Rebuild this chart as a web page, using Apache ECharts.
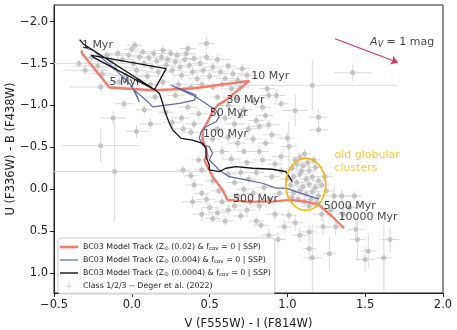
<!DOCTYPE html>
<html>
<head>
<meta charset="utf-8">
<script src="https://cdn.jsdelivr.net/npm/echarts@6/dist/echarts.min.js"></script>
<style>
html,body{margin:0;padding:0;background:#fff;}
#chart{width:457px;height:330px;}
</style>
</head>
<body>
<div id="chart"></div>
<script>
// BC03 model tracks  [V-I, U-B]
var redTrack = [[-0.324,-1.658],[-0.318,-1.619],[-0.143,-1.214],[0.135,-1.182],[0.391,-1.202],[0.755,-1.293],
  [0.605,-1.063],[0.551,-1.004],[0.519,-0.924],[0.487,-0.805],[0.455,-0.706],[0.455,-0.587],[0.477,-0.488],
  [0.487,-0.388],[0.466,-0.349],[0.519,-0.150],[0.583,0.008],[0.615,0.127],[0.733,0.148],[0.904,0.148],
  [1.011,0.127],[1.118,0.148],[1.203,0.187],[1.288,0.326],[1.363,0.464]];
var blueTrack = [[-0.314,-1.698],[-0.250,-1.658],[-0.100,-1.420],[-0.004,-1.242],[0.049,-1.043],[0.017,-1.182],
  [0.092,-1.063],[0.135,-0.983],[0.306,-1.024],[0.402,-1.063],[0.413,-1.123],[0.253,-1.242],[0.413,-1.102],
  [0.541,-0.944],[0.562,-0.864],[0.541,-0.805],[0.477,-0.745],[0.445,-0.686],[0.434,-0.607],[0.455,-0.527],
  [0.498,-0.507],[0.519,-0.429],[0.498,-0.349],[0.562,-0.230],[0.626,-0.150],[0.733,-0.111],[0.840,-0.071],
  [0.926,-0.012],[0.990,-0.012],[1.054,0.029],[1.118,0.068],[1.203,0.119]];
var blackTrack = [[-0.335,-1.786],[-0.314,-1.738],[0.146,-1.190],[0.221,-1.440],[-0.260,-1.599],[-0.246,-1.575],
  [0.146,-1.190],[0.178,-1.143],[0.199,-1.024],[0.210,-0.944],[0.242,-0.786],[0.263,-0.706],[0.317,-0.607],
  [0.391,-0.587],[0.455,-0.548],[0.477,-0.488],[0.477,-0.388],[0.498,-0.289],[0.498,-0.230],[0.562,-0.210],
  [0.605,-0.250],[0.669,-0.269],[0.776,-0.250],[0.904,-0.238],[0.990,-0.210],[1.011,-0.150],[1.032,-0.090]];

// age labels along the tracks
var ageLabels = [[-0.324,-1.718,'1 Myr'],[-0.147,-1.274,'5 Myr'],[0.765,-1.352,'10 Myr'],[0.605,-1.063,'30 Myr'],
  [0.498,-0.905,'50 Myr'],[0.455,-0.655,'100 Myr'],[0.647,0.115,'500 Myr'],[1.231,0.207,'5000 Myr'],
  [1.325,0.338,'10000 Myr']];

// clusters: [V-I, U-B, err(V-I), err(U-B)]
var clusters = [
  [-0.34,-1.50,0.18,0.05],[-0.30,-1.42,0.14,0.06],[-0.26,-1.58,0.06,0.05],[-0.22,-1.47,0.16,0.07],
  [-0.19,-1.38,0.07,0.06],[-0.16,-1.60,0.10,0.05],[-0.13,-1.52,0.08,0.06],[-0.11,-1.45,0.12,0.05],
  [-0.09,-1.62,0.06,0.06],[-0.06,-1.55,0.07,0.05],[-0.04,-1.36,0.15,0.08],[-0.02,-1.60,0.06,0.05],
  [0.00,-1.67,0.05,0.05],[0.01,-1.50,0.12,0.06],[0.03,-1.42,0.06,0.06],[0.05,-1.58,0.05,0.05],
  [0.07,-1.64,0.06,0.04],[0.08,-1.50,0.05,0.05],[0.10,-1.35,0.12,0.06],[0.11,-1.57,0.05,0.05],
  [0.13,-1.46,0.06,0.05],[0.14,-1.62,0.06,0.05],[0.16,-1.53,0.05,0.05],[0.17,-1.40,0.10,0.06],
  [0.19,-1.58,0.05,0.05],[0.20,-1.66,0.06,0.05],[0.22,-1.48,0.05,0.05],[0.23,-1.55,0.06,0.05],
  [0.25,-1.62,0.05,0.05],[0.26,-1.42,0.06,0.06],[0.28,-1.52,0.05,0.05],[0.29,-1.60,0.05,0.05],
  [0.31,-1.46,0.06,0.05],[0.32,-1.36,0.06,0.06],[0.34,-1.55,0.05,0.05],[0.35,-1.62,0.06,0.05],
  [0.37,-1.48,0.05,0.05],[0.39,-1.40,0.06,0.06],[0.40,-1.56,0.05,0.05],[0.42,-1.32,0.06,0.06],
  [0.44,-1.50,0.05,0.05],[0.46,-1.42,0.07,0.05],[0.48,-1.58,0.05,0.05],[0.50,-1.35,0.06,0.06],
  [0.52,-1.46,0.05,0.05],[0.55,-1.55,0.08,0.06],[0.57,-1.40,0.05,0.05],[0.60,-1.32,0.06,0.06],
  [0.62,-1.47,0.05,0.05],[0.65,-1.38,0.07,0.06],[0.68,-1.30,0.06,0.05],[0.71,-1.44,0.05,0.06],
  [0.74,-1.36,0.06,0.05],[0.48,-1.74,0.05,0.08],[0.30,-1.25,0.06,0.06],[0.38,-1.22,0.05,0.05],
  [0.45,-1.25,0.06,0.05],[0.52,-1.22,0.05,0.05],[0.58,-1.25,0.06,0.06],[0.64,-1.20,0.05,0.05],
  [0.70,-1.22,0.06,0.06],[0.12,-1.25,0.06,0.05],[0.20,-1.28,0.05,0.06],[0.04,-1.30,0.06,0.06],
  [-0.08,-1.28,0.07,0.06],[0.02,-1.72,0.05,0.05],[0.36,-1.68,0.05,0.05],[-0.20,-1.22,0.20,0.06],
  [-0.05,-1.02,0.06,0.06],[0.03,-0.69,0.07,0.08],[-0.20,-0.52,0.25,0.20],[0.08,-0.95,0.05,0.06],
  [0.15,-1.10,0.06,0.05],[0.22,-0.92,0.05,0.06],[0.28,-1.12,0.06,0.05],[0.32,-0.85,0.05,0.05],
  [0.36,-0.98,0.06,0.06],[0.40,-0.78,0.05,0.05],[0.43,-0.90,0.06,0.06],[0.38,-0.68,0.05,0.05],
  [0.33,-0.72,0.06,0.06],[0.26,-0.80,0.06,0.07],[-0.12,-0.85,0.08,0.08],[0.12,-0.78,0.07,0.07],
  [0.55,-1.10,0.05,0.05],[0.62,-1.00,0.06,0.06],[0.68,-1.08,0.05,0.05],[0.72,-0.95,0.06,0.06],
  [0.78,-1.05,0.05,0.05],[0.84,-0.98,0.05,0.06],[0.88,-1.12,0.06,0.05],[0.96,-1.02,0.05,0.05],
  [0.60,-0.85,0.05,0.05],[0.66,-0.78,0.06,0.06],[0.70,-0.88,0.05,0.05],[0.75,-0.72,0.06,0.06],
  [0.80,-0.82,0.05,0.06],[0.82,-0.75,0.06,0.05],[0.86,-0.88,0.05,0.05],[0.88,-0.77,0.07,0.06],
  [0.90,-0.65,0.06,0.06],[0.78,-0.60,0.06,0.06],[1.00,-0.61,0.06,0.06],[1.01,-0.51,0.05,0.30],
  [0.96,-0.39,0.06,0.06],[1.05,-0.94,0.08,0.20],[1.20,-0.86,0.06,0.10],[1.20,-0.71,0.06,0.06],
  [0.62,-0.62,0.05,0.05],[0.68,-0.55,0.06,0.06],[0.72,-0.45,0.05,0.05],[0.58,-0.45,0.05,0.06],
  [0.64,-0.36,0.06,0.06],[0.74,-0.32,0.05,0.05],[0.82,-0.45,0.06,0.06],[0.86,-0.55,0.05,0.05],
  [0.84,-0.35,0.06,0.06],[0.92,-0.30,0.05,0.05],[0.55,-0.72,0.05,0.05],[0.52,-0.60,0.05,0.05],
  [0.33,-0.23,0.05,0.05],[0.38,-0.16,0.05,0.05],[0.45,-0.23,0.05,0.05],[0.40,-0.05,0.06,0.06],
  [0.45,0.05,0.05,0.05],[0.48,0.12,0.06,0.06],[0.39,0.15,0.07,0.07],[0.50,0.22,0.05,0.06],
  [0.55,0.28,0.06,0.06],[0.52,-0.10,0.05,0.05],[0.56,0.02,0.05,0.05],[0.58,0.15,0.05,0.05],
  [0.60,0.38,0.06,0.06],[0.52,0.35,0.05,0.05],[0.62,0.25,0.05,0.05],[0.45,0.30,0.06,0.08],
  [0.43,-0.35,0.05,0.05],[0.62,-0.18,0.05,0.05],[0.66,-0.08,0.05,0.05],[0.70,-0.20,0.06,0.06],
  [0.72,0.00,0.05,0.05],[0.68,0.08,0.05,0.05],[0.75,-0.12,0.05,0.05],[0.78,0.05,0.06,0.06],
  [0.80,-0.20,0.05,0.05],[0.82,0.20,0.06,0.06],[0.85,-0.02,0.05,0.05],[0.88,0.12,0.05,0.05],
  [0.90,-0.15,0.05,0.05],[0.74,0.25,0.06,0.06],[0.70,0.32,0.05,0.06],[0.92,0.30,0.06,0.06],
  [0.80,0.38,0.05,0.05],[0.95,0.05,0.05,0.05],[0.66,0.20,0.05,0.05],[0.76,0.15,0.05,0.05],
  [0.96,-0.22,0.05,0.05],
  [1.03,-0.25,0.04,0.06],[1.06,-0.30,0.04,0.05],[1.10,-0.28,0.05,0.06],[1.14,-0.22,0.04,0.05],
  [1.18,-0.26,0.05,0.06],[1.04,-0.15,0.04,0.05],[1.08,-0.18,0.05,0.05],[1.12,-0.12,0.04,0.05],
  [1.16,-0.15,0.05,0.06],[1.20,-0.10,0.04,0.05],[1.02,-0.05,0.04,0.05],[1.06,-0.08,0.05,0.05],
  [1.10,-0.03,0.04,0.05],[1.14,-0.06,0.05,0.05],[1.18,-0.02,0.04,0.06],[1.22,-0.05,0.05,0.05],
  [1.04,0.04,0.04,0.05],[1.08,0.02,0.05,0.05],[1.12,0.06,0.04,0.05],[1.16,0.03,0.05,0.05],
  [1.20,0.08,0.04,0.05],[1.07,0.12,0.05,0.06],[1.11,0.15,0.04,0.05],[1.15,0.12,0.05,0.05],
  [1.09,-0.22,0.04,0.05],[1.13,-0.32,0.05,0.06],[1.17,-0.35,0.04,0.05],[1.00,-0.12,0.05,0.05],
  [1.24,-0.15,0.05,0.06],[1.05,-0.35,0.05,0.05],[1.11,-0.42,0.04,0.06],[1.19,0.16,0.05,0.05],
  [1.25,0.02,0.04,0.06],[1.03,0.10,0.04,0.05],[1.14,0.20,0.05,0.05],[1.08,-0.38,0.05,0.05],
  [0.94,0.60,0.05,0.08],[1.14,0.51,0.05,0.10],[1.14,0.71,0.04,0.15],[1.16,0.82,0.06,0.40],
  [1.27,0.77,0.04,0.20],[1.23,0.45,0.05,0.10],[1.31,0.45,0.06,0.10],[1.44,0.48,0.05,0.15],
  [1.45,0.60,0.05,0.25],[1.52,0.74,0.05,0.20],[1.50,0.84,0.06,0.15],[1.62,0.82,0.05,0.40],
  [1.66,0.60,0.06,0.15],[1.01,0.31,0.05,0.08],[0.83,0.43,0.05,0.06],[1.30,0.08,0.06,0.10],
  [1.35,0.08,0.05,0.08],[1.43,0.08,0.05,0.06],[1.28,0.25,0.05,0.08],[1.22,0.30,0.06,0.08],
  [0.98,0.45,0.05,0.08],[1.05,0.40,0.05,0.10],[1.36,0.30,0.05,0.08],[1.40,0.22,0.05,0.06],
  [0.88,0.55,0.05,0.08],[1.08,0.55,0.05,0.08],
  [1.42,-1.39,0.12,0.10],[1.16,-1.24,0.55,0.30],[0.93,-1.12,0.06,0.08],[0.87,-1.20,0.05,0.05],
  [-0.11,-0.21,0.60,0.60]
];

var ocCenter = [1.118, -0.057];   // old globular clusters ellipse
var ocRadius = [0.128, 0.31];
var avArrow = [[1.306,-1.798],[1.710,-1.512]];
var yTicks = [-2.0,-1.5,-1.0,-0.5,0.0,0.5,1.0];

var names = [
  'BC03 Model Track (Zsun (0.02) & fcov = 0 | SSP)',
  'BC03 Model Track (Zsun (0.004) & fcov = 0 | SSP)',
  'BC03 Model Track (Zsun (0.0004) & fcov = 0 | SSP)',
  'Class 1/2/3 -- Deger et al. (2022)'
];
var FONT = 'DejaVu Sans';
function fmt(v){ return v.toFixed(1).replace('-', '\u2212'); }

var myChart = echarts.init(document.getElementById('chart'));
var option = {
  animation: false,
  textStyle: {fontFamily: FONT},
  grid: {left: 54, right: 14, top: 5, bottom: 37, outerBoundsMode: 'none', containLabel: false,
    show: true, borderColor: '#222', borderWidth: 1},
  legend: {
    left: 58, top: 238, orient: 'vertical', itemWidth: 18, itemHeight: 8, itemGap: 3,
    padding: [4, 4, 3, 2], backgroundColor: 'rgba(255,255,255,0.85)', borderColor: '#ccc', borderWidth: 1, borderRadius: 3,
    data: [
      {name: names[0], icon: 'path://M0,0h18v2.6h-18z', itemStyle: {color: '#f9786b'}},
      {name: names[1], icon: 'path://M0,0h18v1.2h-18z', itemStyle: {color: '#5868a6'}},
      {name: names[2], icon: 'path://M0,0h18v1.4h-18z', itemStyle: {color: '#111'}},
      {name: names[3], icon: 'path://M-5,-0.4h10v0.8h-10zM-0.4,-5h0.8v10h-0.8zM0,-1.8a1.8,1.8 0 1,0 0.01,0z',
        itemStyle: {color: '#c8c8c8'}}
    ],
    formatter: function (n) {
      if (n === names[3]) return n;
      return n.replace('Zsun', 'Z{s|\u2299}').replace('fcov', 'f{s|cov}');
    },
    textStyle: {fontFamily: FONT, fontSize: 7.9, color: '#222', lineHeight: 10,
      rich: {s: {fontSize: 5.5, verticalAlign: 'bottom', padding: [3, 0, 0, 0], fontFamily: FONT, color: '#222'}}}
  },
  xAxis: {
    type: 'value', min: -0.5, max: 2.0, interval: 0.5,
    name: 'V (F555W) - I (F814W)', nameLocation: 'middle', nameGap: 25,
    nameTextStyle: {fontSize: 11.5, color: '#222'},
    axisLine: {onZero: false, lineStyle: {color: '#222'}},
    axisTick: {length: 4, lineStyle: {color: '#222'}},
    axisLabel: {fontSize: 11.5, color: '#222', margin: 6, formatter: fmt},
    splitLine: {show: false}
  },
  yAxis: {
    type: 'value', inverse: true, min: -2.2, max: 1.24,
    name: 'U (F336W) - B (F438W)', nameLocation: 'middle', nameGap: 37, nameMoveOverlap: false,
    nameTextStyle: {fontSize: 11.5, color: '#222'},
    axisLine: {onZero: false, lineStyle: {color: '#222'}},
    axisTick: {length: 4, customValues: yTicks, lineStyle: {color: '#222'}},
    axisLabel: {fontSize: 11.5, color: '#222', margin: 6, customValues: yTicks, formatter: fmt},
    splitLine: {show: false}
  },
  series: [
    {
      type: 'custom', name: 'errbars', silent: true, z: 1,
      data: clusters,
      renderItem: function (params, api) {
        var x = api.value(0), y = api.value(1), ex = api.value(2), ey = api.value(3);
        var l = api.coord([x - ex, y]), r = api.coord([x + ex, y]);
        var t = api.coord([x, y - ey]), b = api.coord([x, y + ey]);
        var cs = params.coordSys;
        var st = {stroke: '#d9d9d9', lineWidth: 1};
        return {type: 'group', clipPath: {type: 'rect', shape: {x: cs.x, y: cs.y, width: cs.width, height: cs.height}},
          children: [
            {type: 'line', shape: {x1: l[0], y1: l[1], x2: r[0], y2: r[1]}, style: st},
            {type: 'line', shape: {x1: t[0], y1: t[1], x2: b[0], y2: b[1]}, style: st}
          ]};
      }
    },
    {
      type: 'scatter', name: names[3], z: 2, silent: true,
      data: clusters.map(function (d) { return [d[0], d[1]]; }),
      symbolSize: 5, itemStyle: {color: '#c4c4c4', opacity: 1}
    },
    {type: 'line', name: names[0], data: redTrack, z: 5, symbol: 'none', silent: true,
      lineStyle: {color: '#f9786b', width: 2.4}, itemStyle: {color: '#f9786b'}},
    {type: 'line', name: names[1], data: blueTrack, z: 5, symbol: 'none', silent: true,
      lineStyle: {color: '#5868a6', width: 1.2}, itemStyle: {color: '#5868a6'}},
    {type: 'line', name: names[2], data: blackTrack, z: 6, symbol: 'none', silent: true,
      lineStyle: {color: '#111', width: 1.3}, itemStyle: {color: '#111'}},
    {
      type: 'scatter', name: 'ages', z: 7, silent: true, data: ageLabels,
      symbolSize: 1, itemStyle: {color: 'rgba(0,0,0,0)'},
      label: {show: true, position: 'right', distance: 0, fontSize: 11, color: '#111', fontFamily: FONT,
        formatter: function (p) { return p.data[2]; }}
    },
    {
      type: 'custom', name: 'oldgc', silent: true, z: 8, data: [ocCenter.concat(ocRadius)],
      renderItem: function (params, api) {
        var c = api.coord([api.value(0), api.value(1)]);
        var rx = api.size([api.value(2), 0])[0], ry = api.size([0, api.value(3)])[1];
        var pts = [];
        for (var i = 0; i <= 72; i++) {
          var a = i / 72 * Math.PI * 2;
          pts.push([c[0] + rx * Math.cos(a), c[1] + ry * Math.sin(a)]);
        }
        return {type: 'polyline', shape: {points: pts}, style: {stroke: '#f9b800', lineWidth: 1.6, fill: 'none'}};
      }
    },
    {
      type: 'scatter', name: 'oldgcText', silent: true, z: 8, data: [[1.299, -0.329]],
      symbolSize: 1, itemStyle: {color: 'rgba(0,0,0,0)'},
      label: {show: true, position: 'right', distance: 0, fontSize: 11, lineHeight: 13, color: '#f9b800',
        fontFamily: FONT, formatter: 'old globular\nclusters'}
    },
    {
      type: 'lines', coordinateSystem: 'cartesian2d', silent: true, z: 8,
      data: [{coords: avArrow}],
      symbol: ['none', 'arrow'], symbolSize: [0, 7],
      lineStyle: {color: '#e3305a', width: 1.1, opacity: 1}
    },
    {
      type: 'scatter', name: 'avText', silent: true, z: 8, data: [[1.947, -1.754]],
      symbolSize: 1, itemStyle: {color: 'rgba(0,0,0,0)'},
      label: {show: true, position: 'left', distance: 0, fontSize: 11, color: '#111', fontFamily: FONT,
        formatter: '{a|A}{v|V} = 1 mag',
        rich: {a: {fontStyle: 'italic', fontSize: 11, fontFamily: FONT, color: '#111'},
               v: {fontStyle: 'italic', fontSize: 8, fontFamily: FONT, color: '#111', verticalAlign: 'bottom', padding: [5, 0, 0, 0]}}}
    }
  ]
};
myChart.setOption(option);
</script>
</body>
</html>
